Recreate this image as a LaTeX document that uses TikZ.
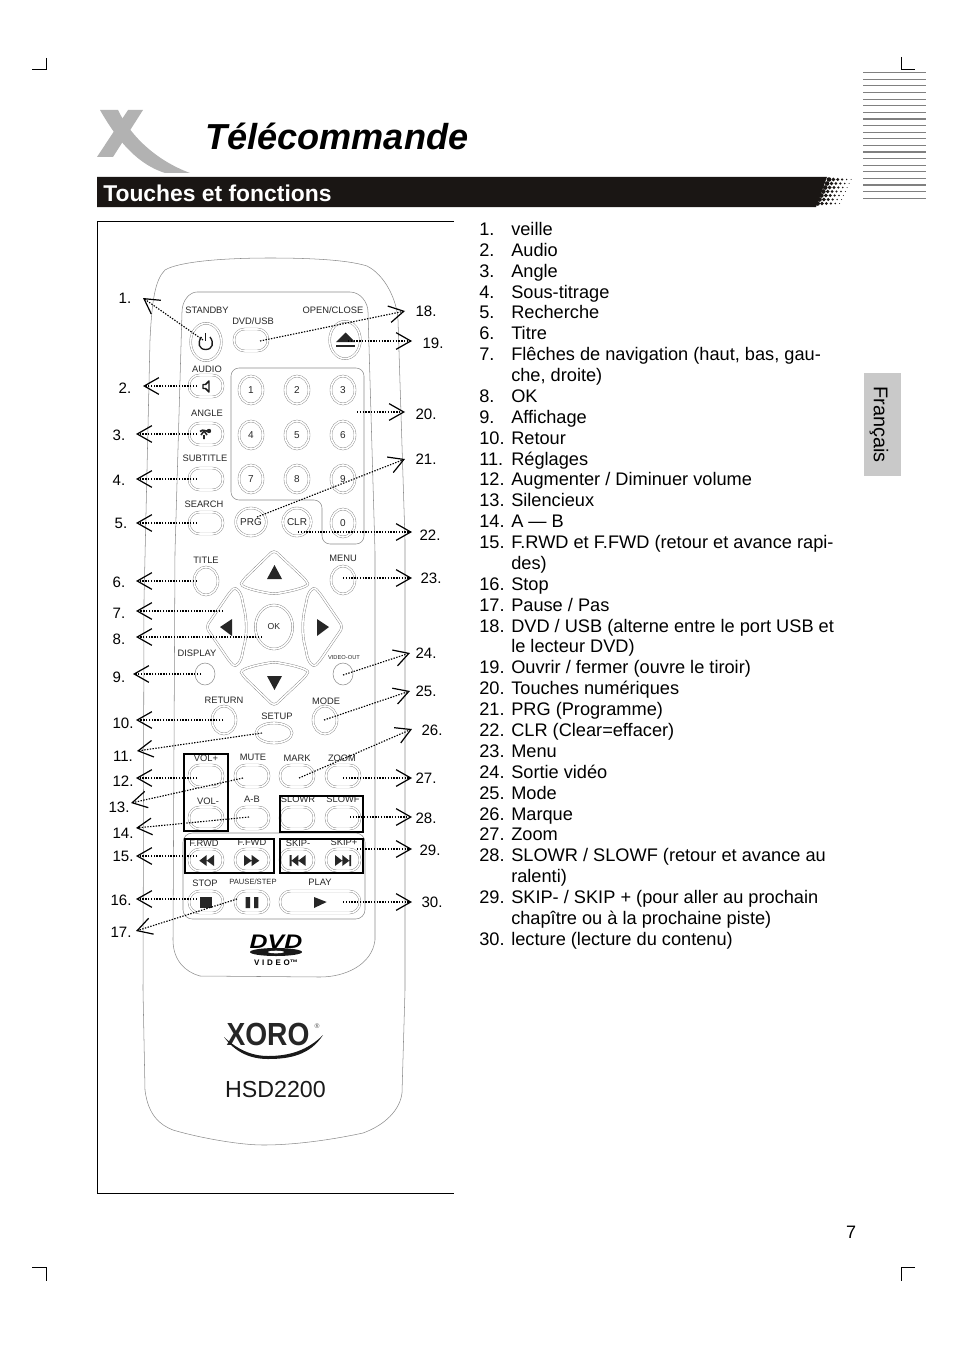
\documentclass[tikz,border=0pt]{standalone}
\usepackage{fontspec}
\usepackage{graphicx}
\setmainfont{Liberation Sans}
\usetikzlibrary{calc,arrows.meta,shapes.geometric}
\definecolor{bannerdark}{HTML}{1A1614}
\begin{document}
\begin{tikzpicture}[x=.75pt,y=-.75pt,
  outline/.style={draw=black!45,line width=.4pt},
  keyline/.style={draw=black!50,line width=.3pt,double=white,double distance=1.2pt},
  capsule/.style={keyline,rectangle,rounded corners=8pt,minimum width=25.5pt,minimum height=16.5pt,inner sep=0pt},
  roundkey/.style={keyline,ellipse,minimum width=18pt,minimum height=21pt,inner sep=0pt,font=\fontsize{7.5}{9}\selectfont,text=black!85},
  thinkey/.style={outline,ellipse,minimum width=15pt,minimum height=16.5pt,inner sep=0pt},
  keylabel/.style={inner sep=0pt,text=black!85,font=\fontsize{7}{8}\selectfont},
  numlabel/.style={inner sep=0pt,font=\fontsize{11.3}{13}\selectfont},
  callout/.style={line width=.85pt,dash pattern=on 1.05pt off 1.05pt,-{Straight Barb[length=11pt,width=12.5pt,line width=.9pt]}},
  selbox/.style={draw=black,line width=1.1pt},
  icon/.style={fill=black!85}]
\useasboundingbox (0,0) rectangle (954,1352);
%crop marks
\draw[line width=.75pt] (46,58) -- (46,70) -- (32,70);
\draw[line width=.75pt] (901,57) -- (901,70) -- (915,70);
\draw[line width=.75pt] (32,1267) -- (46,1267) -- (46,1281);
\draw[line width=.75pt] (915,1267) -- (901,1267) -- (901,1281);
%stripes
\foreach \i in {0,...,19}
  \draw[black!50,line width=.6pt] (863,72.7+6.6*\i) -- (926,72.7+6.6*\i);
\foreach \i in {0,3,5,7,8,10,12,13,15,17}
  \draw[black!50,line width=1.2pt] (863,72.7+6.6*\i) -- (926,72.7+6.6*\i);
%logo and title
\fill[black!30] (100,110) -- (118,110) .. controls (130,135) and (155,160) .. (190,173) -- (165,173) .. controls (140,165) and (120,145) .. cycle;
\fill[black!30] (128,110) -- (143,110) -- (113,157) -- (97,157) -- cycle;
\node[anchor=base west,inner sep=0pt,font=\fontsize{27.1}{30}\selectfont\bfseries\itshape] (title) at (205,149.5) {Télécommande};
%banner
\fill[bannerdark] (97,177) -- (827,177) -- (816,207) -- (97,207) -- cycle;
\foreach \r in {0,...,6}
  \foreach \c in {0,...,5}
    \fill[bannerdark] ({829-1.9*\r+4.4*\c},{179.5+4*\r}) circle[radius={2.3-.36*\c}];
\node[anchor=base west,inner sep=0pt,text=white,font=\fontsize{17.15}{20}\selectfont\bfseries] (heading) at (103,201) {Touches et fonctions};
%frame
\draw[line width=.6pt] (454,221) -- (97,221) -- (97,1193) -- (454,1193);
%remote
\draw[outline] (270,258) .. controls (220,258) and (178,262) .. (165,270) .. controls (155,280) and (152,300) .. (150,340) -- (144,600) -- (143,990) -- (145,1090) .. controls (148,1115) and (160,1125) .. (173,1130) .. controls (200,1138) and (240,1145) .. (263,1145) .. controls (300,1145) and (340,1138) .. (363,1133) .. controls (385,1125) and (400,1110) .. (402,1093) -- (405,990) -- (405,540) -- (398,320) .. controls (397,300) and (385,275) .. (367,266) .. controls (345,259) and (300,258) .. cycle;
\draw[outline] (197,292) -- (350,292) .. controls (360,292) and (368,302) .. (368,312) -- (375,552) -- (375,940) .. controls (372,965) and (345,977) .. (320,977) -- (200,976) .. controls (185,972) and (173,960) .. (173,940) -- (175,552) -- (182,312) .. controls (182,300) and (190,292) .. cycle;
\draw[outline,rounded corners=6pt] (231,368) -- (364,368) -- (364,544) -- (322,544) -- (322,500) -- (231,500) -- cycle;
\draw[outline,rounded corners=7pt] (183,833) rectangle (365,919);
%capsule keys
\foreach \name/\px/\py in {dvdusb/251/340,audio/206/386,angle/206/434,subtitle/206/479,search/206/523,
  volplus/206/776,mute/252/776,mark/297/776,zoom/343/776,volminus/206/818,ab/252/818,slowr/297/818,slowf/343/818,
  frwd/206/860,ffwd/252/860,skipm/297/860,skipp/343/860,stop/206/902,pause/252/902}
  \node[capsule] (\name) at (\px,\py) {};
\node[capsule,minimum width=60pt] (play) at (320,902) {};
%round keys
\node[roundkey,minimum width=23pt,minimum height=28pt] (standby) at (206,342) {};
\node[roundkey,minimum width=23pt,minimum height=28pt] (eject) at (345,340) {};
\foreach \name/\px/\py/\txt in {key1/251/390/1,key2/297/390/2,key3/343/390/3,key4/251/435/4,key5/297/435/5,key6/343/435/6,
  key7/251/479/7,key8/297/479/8,key9/343/479/9,prg/251/522/PRG,clr/297/522/CLR,key0/343/523/0,
  menu/343/580/{},tit/206/581/{},return/224/720/{},mode/325/720/{}}
  \node[roundkey] (\name) at (\px,\py) {\txt};
\node[roundkey,minimum width=28pt,minimum height=33pt,font=\fontsize{6.5}{8}\selectfont] (ok) at (274,627) {OK};
\node[roundkey,minimum width=27pt,minimum height=15pt] (setup) at (274,733) {};
\node[thinkey] (display) at (205,674) {};
\node[thinkey] (videoout) at (343,674) {};
%arrow keys
\draw[keyline,rounded corners=3pt] (274,550) -- (243,580) .. controls (240,586) and (250,590) .. (274,594) .. controls (298,590) and (309,586) .. (306,580) -- cycle;
\draw[keyline,rounded corners=3pt] (274,706) -- (243,676) .. controls (240,670) and (250,666) .. (274,662) .. controls (298,666) and (309,670) .. (306,676) -- cycle;
\draw[keyline,rounded corners=3pt] (206,627) -- (230,592) .. controls (236,586) and (241,592) .. (243,604) .. controls (247,620) and (247,635) .. (243,650) .. controls (241,662) and (236,668) .. (230,662) -- cycle;
\draw[keyline,rounded corners=3pt] (343,627) -- (319,592) .. controls (313,586) and (308,592) .. (306,604) .. controls (302,620) and (302,635) .. (306,650) .. controls (308,662) and (313,668) .. (319,662) -- cycle;
\coordinate (keyleft) at (225,627);
\fill[icon] (267,579) -- (282,579) -- (274.5,565) -- cycle;
\fill[icon] (220,627) -- (232,619) -- (232,636) -- cycle;
\fill[icon] (317,619) -- (317,636) -- (329,627) -- cycle;
\fill[icon] (267,676) -- (282,676) -- (274.5,690) -- cycle;
%icons
\draw[line width=1pt,black!90] (205.7,333) -- (205.7,341);
\draw[line width=1pt,black!90] (201.5,337) .. controls (197,343) and (199,349.5) .. (205.7,349.5) .. controls (212.5,349.5) and (214.5,343) .. (210,337);
\fill[icon] (336,342) -- (355,342) -- (345.5,332.5) -- cycle;
\fill[icon] (336,345) rectangle (355,347);
\draw[line width=1.1pt,black!90,line join=round] (203,384.5) -- (205.5,384.5) -- (209,381) -- (209,392) -- (205.5,388.5) -- (203,388.5) -- cycle;
\draw[line width=1.2pt,black!85] (200,431.5) .. controls (204,428) and (205,433) .. (209,430);
\draw[line width=1.2pt,black!85] (201,435) -- (204,431) -- (207,435) (204,435) -- (204,439);
\fill[icon] (209,431) circle[radius=2.2];
\fill[icon] (199.3,860.7) -- (206.7,855) -- (206.7,866) -- cycle (206.7,860.7) -- (214,855) -- (214,866) -- cycle;
\fill[icon] (244,855) -- (244,866) -- (251.7,860.7) -- cycle (251.7,855) -- (251.7,866) -- (259.3,860.7) -- cycle;
\fill[icon] (289.5,855) rectangle (291.5,866) (291.5,860.7) -- (298.3,855) -- (298.3,866) -- cycle (298.3,860.7) -- (305.7,855) -- (305.7,866) -- cycle;
\fill[icon] (335,855) -- (335,866) -- (342.3,860.7) -- cycle (342.3,855) -- (342.3,866) -- (349.3,860.7) -- cycle (349.3,855) rectangle (351,866);
\fill[icon] (200,897) rectangle (211.7,908);
\fill[icon] (245.7,897) rectangle (250,908) (254,897) rectangle (258.3,908);
\fill[icon] (314,897) -- (314,908) -- (326.7,902) -- cycle;
%key labels
\foreach \name/\px/\py/\txt in {lstandby/207/310/STANDBY,ldvdusb/253/321/{DVD/USB},lopen/333/310/{OPEN/CLOSE},laudio/207/369/AUDIO,
  langle/207/413/ANGLE,lsubtitle/205/458/SUBTITLE,lsearch/204/504/SEARCH,ltitle/206/560/TITLE,lmenu/343/558/MENU,
  ldisplay/197/653/DISPLAY,lreturn/224/700/RETURN,lmode/326/701/MODE,lsetup/277/716/SETUP,lvolplus/206/758/VOL+,
  lmute/253/757/MUTE,lmark/297/758/MARK,lzoom/342/758/ZOOM,lvolminus/208/801/VOL-,lab/252/799/A-B,lslowr/298/799/SLOWR,
  lslowf/343/799/SLOWF,lfrwd/204/843/F.RWD,lffwd/252/842/F.FWD,lskipm/298/843/SKIP-,lskipp/344/842/SKIP+,lstop/205/883/STOP,lplay/320/882/PLAY}
  \node[keylabel] (\name) at (\px,\py) {\txt};
\node[keylabel,font=\fontsize{4.3}{5}\selectfont] (lvideo) at (344,658) {VIDEO-OUT};
\node[keylabel,font=\fontsize{5.7}{7}\selectfont] (lpause) at (253,882) {PAUSE/STEP};
%marked groups
\draw[selbox] (184,754) rectangle (228,831);
\draw[selbox] (280,796) rectangle (363,832);
\draw[selbox] (185,839) rectangle (274,873);
\draw[selbox] (280,839) rectangle (363,873);
%dvd and xoro logos
\node[inner sep=0pt,font=\fontsize{14.7}{16}\selectfont\bfseries\itshape] (dvdtext) at (276,941.5) {\scalebox{1.27}[1]{DVD}};
\fill[black!90] (276,952) ellipse[x radius=26,y radius=4];
\fill[white] (276,952) ellipse[x radius=8,y radius=1.3];
\node[inner sep=0pt,font=\fontsize{6}{7}\selectfont\bfseries] (videotext) at (276,963) {V\hspace{2pt}I\hspace{2pt}D\hspace{2pt}E\hspace{2pt}O™};
\node[inner sep=0pt,text=black!85,font=\fontsize{24}{26}\selectfont\bfseries] (xoro) at (268,1034) {\scalebox{.88}[1]{XORO}};
\node[inner sep=0pt,text=black!70,font=\fontsize{5}{6}\selectfont] (regmark) at (317,1026) {®};
\fill[black!90] (224,1037) .. controls (240,1052) and (255,1056) .. (268,1056) .. controls (290,1056) and (308,1050) .. (323,1035) .. controls (310,1055) and (290,1059) .. (268,1059) .. controls (250,1059) and (235,1052) .. cycle;
\node[inner sep=0pt,text=black!90,font=\fontsize{17.4}{20}\selectfont] (model) at (275.5,1089) {HSD2200};
%callouts
\foreach \n/\lx/\ly/\tx/\ty/\btn/\dx/\dy in {
  1/125/298/143/298/standby/-3/-2, 2/125/388/143/386/audio/-9/0, 3/119/435/136/434/angle/-9/0,
  4/119/480/136/479/subtitle/-9/0, 5/121/523/136/523/search/-9/0, 6/119/582/136/581/tit/-9/0,
  7/119/613/136/611/keyleft/-2/-16, 8/119/639/136/637/ok/-12/10, 9/119/677/133/674/display/-4/0,
  10/123/723/136/720/return/-1/0, 11/123/756/137/751/setup/-12/0, 12/123/781/136/778/volplus/-9/2,
  13/119/807/131/803/mute/-9/2, 14/123/833/136/828/ab/-3/-1, 15/123/856/136/856/frwd/-9/-4,
  16/121/900/136/899/stop/-9/-3, 17/121/932/136/931/pause/-15/-3, 18/426/311/405/311/dvdusb/9/1,
  19/433/343/412/341/eject/3/1, 20/426/414/405/412/key3/14/22, 21/426/459/405/459/prg/6/-5,
  22/430/535/412/532/clr/1/10, 23/431/578/412/578/menu/0/-2, 24/426/653/410/653/videoout/0/1,
  25/426/691/410/691/mode/-1/0, 26/432/730/412/729/mark/2/2, 27/426/778/412/778/zoom/0/2,
  28/426/818/412/817/slowf/7/-1, 29/430/850/412/849/skipp/14/-11, 30/432/902/412/902/play/23/0}{
  \node[numlabel] (num\n) at (\lx,\ly) {\n.};
  \coordinate (tip\n) at (\tx,\ty);
  \draw[callout] ($(\btn.center)+(\dx,\dy)$) -- (tip\n);
}
%list
\node[anchor=north west,inner sep=0pt,font=\fontsize{13.65}{15.66}\selectfont] (liste) at (479,220.5) {%
\begin{tabular}{@{}p{24pt}@{}l@{}}
1.&veille\\
2.&Audio\\
3.&Angle\\
4.&Sous-titrage\\
5.&Recherche\\
6.&Titre\\
7.&Flêches de navigation (haut, bas, gau-\\
&che, droite)\\
8.&OK\\
9.&Affichage\\
10.&Retour\\
11.&Réglages\\
12.&Augmenter / Diminuer volume\\
13.&Silencieux\\
14.&A — B\\
15.&F.RWD et F.FWD (retour et avance rapi-\\
&des)\\
16.&Stop\\
17.&Pause / Pas\\
18.&DVD / USB (alterne entre le port USB et\\
&le lecteur DVD)\\
19.&Ouvrir / fermer (ouvre le tiroir)\\
20.&Touches numériques\\
21.&PRG (Programme)\\
22.&CLR (Clear=effacer)\\
23.&Menu\\
24.&Sortie vidéo\\
25.&Mode\\
26.&Marque\\
27.&Zoom\\
28.&SLOWR / SLOWF (retour et avance au\\
&ralenti)\\
29.&SKIP- / SKIP + (pour aller au prochain\\
&chapître ou à la prochaine piste)\\
30.&lecture (lecture du contenu)
\end{tabular}};
%side tab
\node[fill=black!21,minimum width=27.75pt,minimum height=77.25pt,inner sep=0pt] (tab) at (882.5,424.5) {};
\node[rotate=-90,inner sep=0pt,font=\fontsize{14.9}{17}\selectfont] (langue) at (879,424.5) {Français};
\node[inner sep=0pt,font=\fontsize{13.5}{16}\selectfont] (pagenum) at (851,1232) {7};
\end{tikzpicture}
\end{document}
